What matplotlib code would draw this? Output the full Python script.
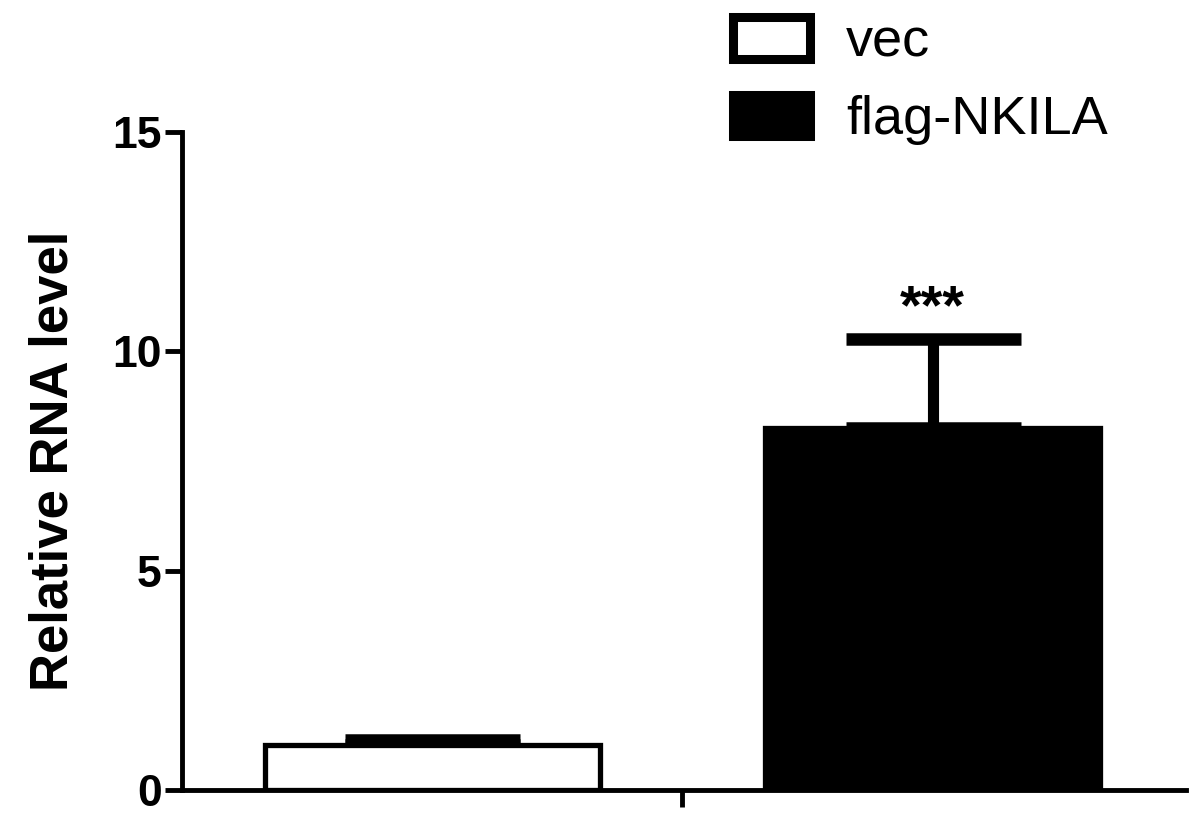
import matplotlib
matplotlib.use("Agg")
import matplotlib.pyplot as plt
from matplotlib.patches import Patch

plt.rcParams['font.family'] = ['Liberation Sans', 'DejaVu Sans']

groups = ["vec", "flag-NKILA"]
values = [1.02, 8.25]
errors = [0.12, 2.02]
colors = ["white", "black"]
yticks = [0, 5, 10, 15]
ylabel = "Relative RNA level"
significance = "***"

fig = plt.figure(figsize=(12, 8.24), dpi=100)
ax = fig.add_axes([0.152, 0.041, 0.836, 0.799])

positions = [0, 1]
for pos, v, e, c, g in zip(positions, values, errors, colors, groups):
    ax.bar(pos, v, width=0.67, color=c, edgecolor="black", linewidth=3.8,
           label=g, zorder=2)
    ax.errorbar(pos, v, yerr=[[0], [e]], fmt="none", ecolor="black",
                elinewidth=8, capsize=63, capthick=9, zorder=1)

ax.text(1, values[1] + errors[1] + 0.38, significance, ha="center",
        va="baseline", fontsize=40, fontweight="bold")

ax.set_xlim(-0.5, 1.506)
ax.set_ylim(0, 15)
ax.set_yticks(yticks)
ax.set_yticklabels([str(t) for t in yticks], fontsize=32, fontweight="bold")
ax.set_xticks([0.5])
ax.set_xticklabels([""])
ax.set_ylabel(ylabel, fontsize=38, fontweight="bold", labelpad=24)

for s in ["top", "right"]:
    ax.spines[s].set_visible(False)
for s in ["left", "bottom"]:
    ax.spines[s].set_linewidth(3.5)
ax.tick_params(axis="both", width=3.5, length=12, pad=3)

handles = [Patch(facecolor=c, edgecolor="black", linewidth=6.5) for c in colors]
fig.legend(handles=handles, labels=groups, loc="upper left",
           bbox_to_anchor=(0.611, 0.979), frameon=False, fontsize=39,
           handlelength=1.42, handleheight=0.8, labelspacing=0.5,
           handletextpad=0.66, borderaxespad=0.0, borderpad=0.0)

fig.savefig("out.png", dpi=100)
